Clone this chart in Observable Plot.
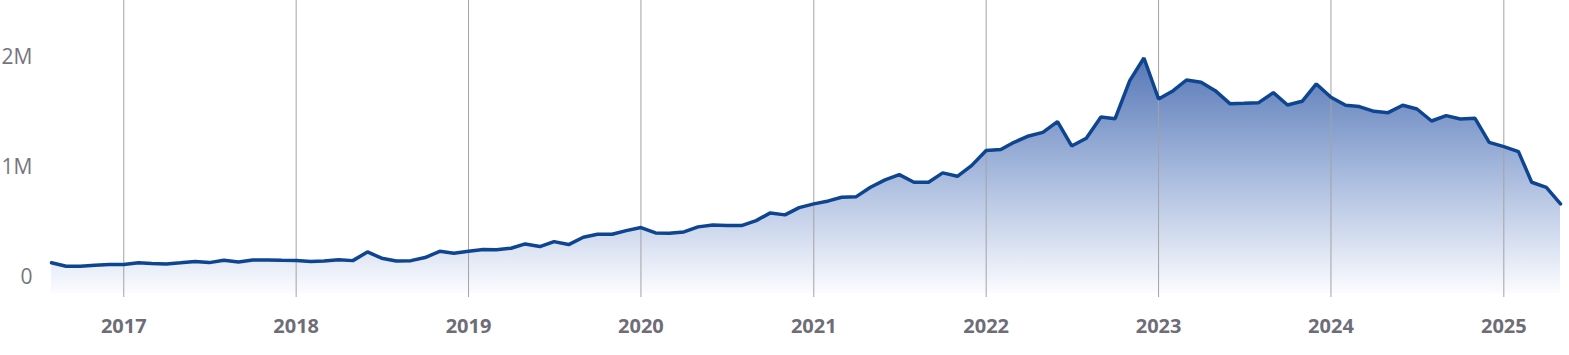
<!DOCTYPE html>
<html><head><meta charset="utf-8">
<script src="https://cdn.jsdelivr.net/npm/d3@7"></script>
<script src="https://cdn.jsdelivr.net/npm/@observablehq/plot@0.6"></script>
<style>body{margin:0;background:#fff}</style>
</head><body><div id="chart"></div>
<script>
// Monthly series, first month August 2016, last month May 2025
const startYear = 2016, startMonthIndex = 7;
const values = [
  134000, 103000, 103000, 112000, 118000,
  118000, 134000, 127000, 124000, 134000, 145000, 136000, 157000, 142000, 160000, 160000, 157000,
  156000, 145000, 151000, 161000, 154000, 233000, 176000, 151000, 154000, 182000, 239000, 221000,
  239000, 255000, 252000, 267000, 306000, 282000, 327000, 300000, 367000, 394000, 394000, 427000,
  455000, 406000, 403000, 415000, 461000, 479000, 473000, 473000, 518000, 588000, 570000, 636000,
  670000, 697000, 730000, 736000, 821000, 888000, 936000, 867000, 867000, 952000, 921000, 1018000,
  1155000, 1164000, 1230000, 1288000, 1321000, 1418000, 1197000, 1267000, 1460000, 1445000, 1791000, 1997000,
  1624000, 1700000, 1797000, 1776000, 1700000, 1582000, 1585000, 1591000, 1682000, 1570000, 1603000, 1761000,
  1640000, 1567000, 1555000, 1512000, 1500000, 1567000, 1533000, 1424000, 1473000, 1442000, 1448000, 1230000,
  1191000, 1145000, 867000, 821000, 670000
];
const yearTicks = [2017, 2018, 2019, 2020, 2021, 2022, 2023, 2024, 2025];
const yTickValues = [0, 1000000, 2000000];
const yTickLabels = ["0", "1M", "2M"];
const yDomain = [-145000, 2520000];

const months = values.map((_, i) => new Date(Date.UTC(startYear, startMonthIndex + i, 1)));
const data = months.map((date, i) => ({date, value: values[i]}));
const yearDates = yearTicks.map(y => new Date(Date.UTC(y, 0, 1)));

function gradientDefs() {
  const ns = "http://www.w3.org/2000/svg";
  const defs = document.createElementNS(ns, "defs");
  const lg = document.createElementNS(ns, "linearGradient");
  lg.setAttribute("id", "areaGrad");
  lg.setAttribute("x1", "0"); lg.setAttribute("y1", "0");
  lg.setAttribute("x2", "0"); lg.setAttribute("y2", "1");
  [["0%", "#5677b6"], ["45%", "#a0b4da"], ["100%", "#fbfcff"]].forEach(([o, c]) => {
    const s = document.createElementNS(ns, "stop");
    s.setAttribute("offset", o); s.setAttribute("stop-color", c);
    lg.appendChild(s);
  });
  defs.appendChild(lg);
  return defs;
}

const chart = Plot.plot({
  width: 1569, height: 355,
  marginLeft: 51, marginRight: 9, marginTop: 0, marginBottom: 62,
  x: {type: "utc", domain: [months[0], months[months.length - 1]]},
  y: {domain: yDomain},
  style: {fontFamily: "'Open Sans', sans-serif", background: "#fff", overflow: "visible"},
  marks: [
    gradientDefs,
    Plot.areaY(data, {x: "date", y1: yDomain[0], y2: "value", fill: "url(#areaGrad)"}),
    Plot.ruleX(yearDates, {stroke: "#a3a3a3", strokeWidth: 1, insetBottom: -4}),
    Plot.lineY(data, {x: "date", y: "value", stroke: "#0e4591", strokeWidth: 3.5, strokeLinejoin: "miter"}),
    Plot.axisX(yearDates, {tickSize: 0, tickPadding: 25, tickFormat: "%Y", fontSize: 20, fontWeight: 700, fill: "#6e6d77", label: null}),
    Plot.axisY(yTickValues, {tickSize: 0, tickPadding: 19, tickFormat: (d, i) => yTickLabels[i], fontSize: 21, fill: "#76757d", label: null})
  ]
});
document.getElementById("chart").appendChild(chart);
</script>
</body></html>
